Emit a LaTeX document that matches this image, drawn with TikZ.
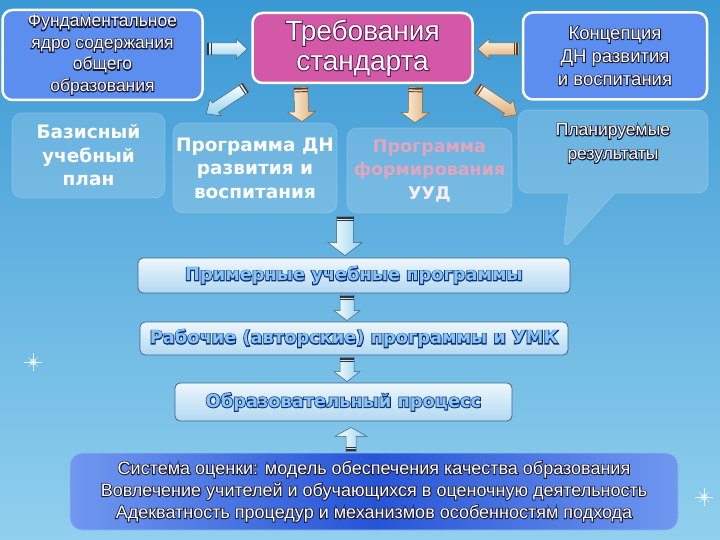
\documentclass[tikz,border=0pt]{standalone}
\usepackage{fontspec}
\setmainfont{Liberation Sans}
\newfontfamily\dvs{DejaVu Sans}
\usetikzlibrary{calc,shapes.callouts}
\definecolor{bgtop}{RGB}{58,152,212}
\definecolor{bgbot}{RGB}{145,208,238}
\definecolor{boxblue}{RGB}{92,142,240}
\definecolor{pinkbox}{RGB}{212,88,168}
\definecolor{lbtop}{RGB}{238,247,253}
\definecolor{lbbot}{RGB}{178,216,241}
\definecolor{lbdraw}{RGB}{60,100,140}
\definecolor{bluetext}{RGB}{135,198,242}
\definecolor{evalmid}{RGB}{38,84,214}
\definecolor{evalside}{RGB}{112,152,240}
\definecolor{evaldraw}{RGB}{150,180,240}
\definecolor{beigeA}{RGB}{255,248,232}
\definecolor{beigeB}{RGB}{222,172,118}
\definecolor{beigeline}{RGB}{140,95,55}
\definecolor{beigestripe}{RGB}{90,55,30}
\definecolor{cyanB}{RGB}{150,210,235}
\definecolor{cyanline}{RGB}{60,95,125}
\definecolor{cyanstripe}{RGB}{45,50,60}
\definecolor{uudpink}{RGB}{226,165,190}
% outlined text: a stroked copy underneath, the filled text on top
\newcommand\olt[3]{\special{pdf:literal direct #1 RG #2 w 2 Tr}#3\special{pdf:literal direct 0 Tr}}
\newcommand\oline[3]{\rlap{\olt{#1}{#2}{#3}}#3}
\newcommand\wo[1]{\oline{0.1 0.1 0.22}{1.7}{#1}}
\newcommand\po[1]{\oline{0.35 0.1 0.3}{1.6}{#1}}
\newcommand\bo[1]{\oline{0.06 0.18 0.48}{1.7}{#1}}
\newcommand\barrow[7][]{%
  \coordinate (ba) at #2;
  \coordinate (bb) at #3;
  \coordinate (bh) at ($(bb)!#6!(ba)$);
  \path[#1] ($(ba)!#4!90:(bb)$) -- ($(bh)!#4!90:(bb)$) -- ($(bh)!#5!90:(bb)$) -- (bb)
     -- ($(bh)!#5!-90:(bb)$) -- ($(bh)!#4!-90:(bb)$) -- ($(ba)!#4!-90:(bb)$) -- cycle;
  \coordinate (bt1) at ($(ba)!1.5pt!(bb)$);
  \coordinate (bt2) at ($(ba)!4.5pt!(bb)$);
  \draw[#7, line width=1.6pt] ($(bt1)!#4!90:(bb)$) -- ($(bt1)!#4!-90:(bb)$);
  \draw[#7, line width=0.9pt] ($(bt2)!#4!90:(bb)$) -- ($(bt2)!#4!-90:(bb)$);
}
\begin{document}
\begin{tikzpicture}[x=1pt,y=-1pt,
  topbox/.style={draw=white, line width=2.5pt, rounded corners=10pt, text=white, align=center, inner sep=2pt},
  softbox/.style={fill=white, fill opacity=0.17, draw=white, draw opacity=0.22, line width=.6pt, rounded corners=10pt, text opacity=1, text=white, align=center, inner sep=2pt, font=\dvs\bfseries\fontsize{18.5}{23.5}\selectfont},
  lightbox/.style={top color=lbtop, bottom color=lbbot, draw=lbdraw, line width=.8pt, rounded corners=5pt, align=center, inner sep=2pt, text=bluetext, font=\dvs\bfseries\fontsize{17.8}{20}\selectfont},
  cyanarrow/.style={top color=white, bottom color=cyanB, draw=cyanline, line width=.5pt},
  cyanarrowv/.style={left color=white, right color=cyanB, draw=cyanline, line width=.5pt},
  beigearrow/.style={top color=beigeA, bottom color=beigeB, draw=beigeline, line width=.5pt},
  beigearrowv/.style={left color=beigeA, right color=beigeB, draw=beigeline, line width=.5pt}]
\useasboundingbox (0,0) rectangle (720,540);
\shade[top color=bgtop, bottom color=bgbot] (0,0) rectangle (720,540);
% sparkles
\foreach \sx/\sy in {33/362,704/497}{
  \fill[white, opacity=.5] (\sx,\sy) circle (3.5);
  \draw[white, line width=.7pt, opacity=.8] (\sx-9,\sy) -- (\sx+9,\sy) (\sx,\sy-9) -- (\sx,\sy+9);
  \draw[white, line width=.5pt, opacity=.6] (\sx-5,\sy-5) -- (\sx+5,\sy+5) (\sx-5,\sy+5) -- (\sx+5,\sy-5);
}
% top row
\node[topbox, fill=boxblue, minimum width=200, minimum height=90, font=\fontsize{17.5}{21.5}\selectfont] (fund) at (102.5,55)
  {\wo{Фундаментальное}\\\wo{ядро содержания}\\\wo{общего}\\\wo{образования}};
\node[topbox, fill=pinkbox, minimum width=220, minimum height=70, font=\fontsize{28}{30}\selectfont] (req) at (362.5,48)
  {\po{Требования}\\\po{стандарта}};
\node[topbox, fill=boxblue, minimum width=184, minimum height=87, font=\fontsize{18.5}{23}\selectfont] (conc) at (615,56)
  {\wo{Концепция}\\\wo{ДН развития}\\\wo{и воспитания}};
% second row
\node[softbox, minimum width=153, minimum height=85] (bup) at (88.5,155.5) {Базисный\\учебный\\план};
\node[softbox, minimum width=164, minimum height=90] (progdn) at (255,168) {Программа ДН\\развития и\\воспитания};
\node[softbox, minimum width=165, minimum height=85, text=uudpink, font=\dvs\bfseries\fontsize{17.5}{23.5}\selectfont] (uud) at (429.5,170.5)
  {Программа\\формирования\\{\color{white!80!uudpink}УУД}};
\node[softbox, rectangle callout, callout absolute pointer={(563,250)}, callout pointer width=46pt,
  minimum width=190, minimum height=83, text depth=20pt, font=\fontsize{17.5}{24}\selectfont] (plan) at (613,151.5)
  {\wo{Планируемые}\\\wo{результаты}};
% chain
\node[lightbox, minimum width=432, minimum height=35] (ex) at (354,275.5)
  {\bo{Примерные учебные программы}};
\node[lightbox, minimum width=428, minimum height=33] (rab) at (354,338.5)
  {\bo{Рабочие (авторские) программы и УМК}};
\node[lightbox, minimum width=337, minimum height=38] (proc) at (343.5,402)
  {\bo{Образовательный процесс}};
\node[draw=evaldraw, line width=.8pt, rounded corners=12pt, left color=evalside, right color=evalside, middle color=evalmid,
  minimum width=608, minimum height=77, align=center, text=white, font=\fontsize{18}{22}\selectfont] (eval) at (374,491.5)
  {\wo{Система оценки: модель обеспечения качества образования}\\\wo{Вовлечение учителей и обучающихся в оценочную деятельность}\\\wo{Адекватность процедур и механизмов особенностям подхода}};
% arrows
\barrow[cyanarrow]{($(fund.east|-req.west)+(3,1)$)}{($(req.west)+(-4,1)$)}{6pt}{10pt}{11pt}{cyanstripe}
\barrow[beigearrow]{($(conc.west|-req.east)+(-3,1)$)}{($(req.east)+(4,1)$)}{6pt}{10pt}{11pt}{beigestripe}
\barrow[cyanarrow]{($(req.south west)+(-5,3)$)}{($(bup.north east)+(41,1)$)}{5.5pt}{10pt}{11pt}{cyanstripe}
\barrow[beigearrowv]{($(req.south west)+(49.5,3)$)}{($(progdn.north)+(47,-1)$)}{7pt}{14pt}{10pt}{beigestripe}
\barrow[beigearrowv]{($(req.south east)+(-58,3)$)}{($(uud.north)+(-14.5,-5)$)}{7pt}{14pt}{10pt}{beigestripe}
\barrow[beigearrow]{($(req.south east)+(3,4)$)}{($(plan.north west)+(-1,5)$)}{5.5pt}{10pt}{11pt}{beigestripe}
\barrow[cyanarrowv]{($(progdn.south east)!.5!(uud.south west)+(3,3)$)}{($(ex.north)+(-9,-2)$)}{8.5pt}{17pt}{13pt}{cyanstripe}
\barrow[cyanarrowv]{($(ex.south)+(-7,2)$)}{($(rab.north)+(-7,-1)$)}{7pt}{13pt}{10pt}{cyanstripe}
\barrow[cyanarrowv]{($(rab.south)+(-7,2)$)}{($(proc.north)+(3.5,-1)$)}{7pt}{13pt}{10pt}{cyanstripe}
\barrow[cyanarrowv]{($(eval.north)+(-23,-1)$)}{($(proc.south)+(7.5,6)$)}{5pt}{16pt}{9pt}{cyanstripe}
\end{tikzpicture}
\end{document}
